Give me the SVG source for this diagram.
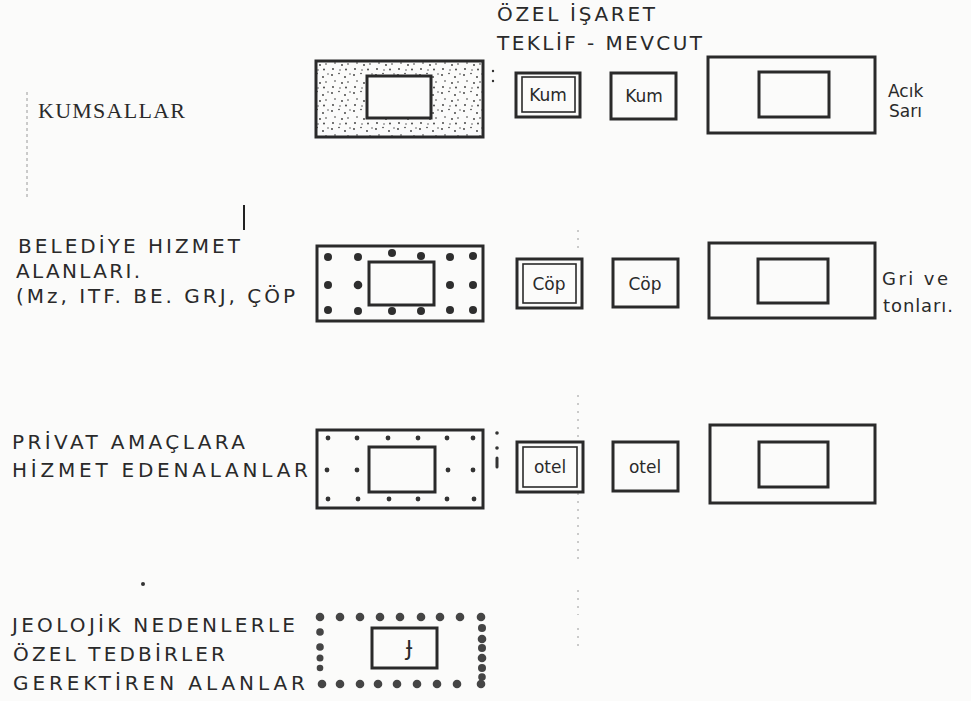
<svg xmlns="http://www.w3.org/2000/svg" width="971" height="701" viewBox="0 0 971 701">
<style>
.bg{fill:#fbfbfa}
.t{font-family:"DejaVu Sans","Liberation Sans",sans-serif;fill:#2a2a2a}
.ts{font-family:"Liberation Serif","DejaVu Serif",serif;fill:#2a2a2a}
.h{font-family:"DejaVu Sans","Liberation Sans",sans-serif;fill:#2a2a2a;font-size:17px;text-anchor:middle}
.box{fill:none;stroke:#2a2a2a;stroke-width:3}
.inbox{fill:#fbfbfa;stroke:#2a2a2a;stroke-width:3}
.thin{fill:none;stroke:#2a2a2a;stroke-width:1.6}
.big{fill:#2e2e2e}
.sm{fill:#333}
.jd{fill:#454545}
.faint{stroke:#9a9a9a;stroke-width:1;fill:none}
</style>
<defs>
<pattern id="stip" patternUnits="userSpaceOnUse" width="22" height="18">
<circle cx="2" cy="3" r="0.9" fill="#333"/>
<circle cx="9" cy="1.5" r="0.8" fill="#333"/>
<circle cx="15" cy="5" r="0.9" fill="#333"/>
<circle cx="20" cy="2" r="0.7" fill="#333"/>
<circle cx="5" cy="9" r="0.8" fill="#333"/>
<circle cx="12" cy="11" r="0.9" fill="#333"/>
<circle cx="18" cy="10" r="0.8" fill="#333"/>
<circle cx="3" cy="15" r="0.9" fill="#333"/>
<circle cx="10" cy="16" r="0.7" fill="#333"/>
<circle cx="16" cy="15.5" r="0.9" fill="#333"/>
</pattern>
</defs>
<rect class="bg" x="0" y="0" width="971" height="701"/>

<g id="header">
<text class="t" x="497" y="21" font-size="20" textLength="158" lengthAdjust="spacing">ÖZEL İŞARET</text>
<text class="t" x="497" y="50" font-size="20" textLength="205" lengthAdjust="spacing">TEKLİF - MEVCUT</text>
</g>

<g id="marks">
<path class="faint" d="M27 92V198" stroke-dasharray="3 3"/>
<path d="M244 205V230" stroke="#222" stroke-width="2"/>
<path class="faint" d="M578 230V250M578 395V440M578 493V560M578 590V615M578 628V650" stroke-dasharray="2 6"/>
<circle class="sm" cx="493" cy="71" r="1.2"/>
<circle class="sm" cx="493" cy="81" r="1.2"/>
<circle class="sm" cx="143" cy="584" r="2"/>
</g>

<g id="row-kumsallar">
<text class="ts" x="38" y="118" font-size="22" textLength="147" lengthAdjust="spacing">KUMSALLAR</text>
<rect x="316" y="61" width="167" height="76" fill="url(#stip)" stroke="#2a2a2a" stroke-width="3"/>
<rect class="inbox" x="367" y="76" width="64" height="42"/>
<rect class="box" x="516" y="73" width="64" height="44"/>
<rect class="thin" x="522" y="77" width="53" height="35"/>
<text class="h" x="548" y="101">Kum</text>
<rect class="box" x="611" y="73" width="65" height="46"/>
<text class="h" x="644" y="102">Kum</text>
<rect class="box" x="708" y="57" width="167" height="76"/>
<rect class="box" x="759" y="72" width="70" height="45"/>
<text class="t" x="888" y="97" font-size="17">Acık</text>
<text class="t" x="889" y="117" font-size="17">Sarı</text>
</g>

<g id="row-belediye">
<text class="t" x="18" y="253" font-size="20" textLength="222" lengthAdjust="spacing">BELEDİYE HIZMET</text>
<text class="t" x="16" y="278" font-size="20" textLength="124" lengthAdjust="spacing">ALANLARI.</text>
<text class="t" x="16" y="303" font-size="20" textLength="279" lengthAdjust="spacing">(Mz, ITF. BE. GRJ, ÇÖP</text>
<rect class="box" x="317" y="246" width="166" height="75"/>
<rect class="box" x="369" y="262" width="65" height="43"/>
<g class="big">
<circle cx="328" cy="257" r="4"/><circle cx="358" cy="257" r="4"/><circle cx="392" cy="253" r="4"/><circle cx="421" cy="256" r="4"/><circle cx="450" cy="257" r="4"/><circle cx="473" cy="256" r="4"/>
<circle cx="328" cy="285" r="4"/><circle cx="358" cy="285" r="4.3"/><circle cx="450" cy="285" r="4"/><circle cx="473" cy="285" r="4"/>
<circle cx="328" cy="310" r="4"/><circle cx="358" cy="311" r="4"/><circle cx="392" cy="311" r="4"/><circle cx="421" cy="311" r="4"/><circle cx="450" cy="310" r="4"/><circle cx="473" cy="310" r="4"/>
</g>
<rect class="box" x="517" y="259" width="65" height="49"/>
<rect class="thin" x="523" y="264" width="53" height="39"/>
<text class="h" x="549" y="290">Cöp</text>
<rect class="box" x="613" y="259" width="65" height="48"/>
<text class="h" x="645" y="290">Cöp</text>
<rect class="box" x="709" y="243" width="166" height="75"/>
<rect class="box" x="758" y="259" width="70" height="44"/>
<text class="t" x="882" y="285" font-size="18" textLength="66" lengthAdjust="spacing">Gri ve</text>
<text class="t" x="883" y="312" font-size="18" textLength="70" lengthAdjust="spacing">tonları.</text>
</g>

<g id="row-privat">
<text class="t" x="12" y="449" font-size="20" textLength="233" lengthAdjust="spacing">PRİVAT AMAÇLARA</text>
<text class="t" x="12" y="477" font-size="20" textLength="296" lengthAdjust="spacing">HİZMET EDENALANLAR</text>
<rect class="box" x="317" y="430" width="166" height="78"/>
<rect class="box" x="369" y="447" width="66" height="45"/>
<g class="sm">
<circle cx="328" cy="438" r="2.4"/><circle cx="357" cy="438" r="2.4"/><circle cx="388" cy="438" r="2.4"/><circle cx="418" cy="438" r="2.4"/><circle cx="447" cy="438" r="2.4"/><circle cx="473" cy="438" r="2.4"/>
<circle cx="327" cy="470" r="2.4"/><circle cx="357" cy="470" r="2.4"/><circle cx="448" cy="470" r="2.4"/><circle cx="473" cy="470" r="2.4"/>
<circle cx="328" cy="499" r="2.4"/><circle cx="358" cy="499" r="2.4"/><circle cx="389" cy="499" r="2.4"/><circle cx="418" cy="499" r="2.4"/><circle cx="447" cy="499" r="2.4"/><circle cx="474" cy="499" r="2.4"/>
<circle cx="497" cy="433" r="1.8"/><circle cx="497" cy="448" r="1.8"/>
</g>
<path d="M497 458V467" stroke="#333" stroke-width="3" stroke-linecap="round"/>
<rect class="box" x="517" y="442" width="66" height="50"/>
<rect class="thin" x="523" y="447" width="54" height="40"/>
<text class="h" x="550" y="473">otel</text>
<rect class="box" x="613" y="442" width="65" height="49"/>
<text class="h" x="645" y="473">otel</text>
<rect class="box" x="710" y="425" width="165" height="78"/>
<rect class="box" x="759" y="442" width="69" height="45"/>
</g>

<g id="row-jeolojik">
<text class="t" x="12" y="632" font-size="20" textLength="283" lengthAdjust="spacing">JEOLOJİK NEDENLERLE</text>
<text class="t" x="13" y="661" font-size="20" textLength="212" lengthAdjust="spacing">ÖZEL TEDBİRLER</text>
<text class="t" x="13" y="690" font-size="20" textLength="292" lengthAdjust="spacing">GEREKTİREN ALANLAR</text>
<g class="jd">
<circle cx="320" cy="617" r="4.3"/><circle cx="340" cy="617" r="4.3"/><circle cx="360" cy="617" r="4.3"/><circle cx="380" cy="617" r="4.3"/><circle cx="400" cy="617" r="4.3"/><circle cx="421" cy="617" r="4.3"/><circle cx="440" cy="617" r="4.3"/><circle cx="460" cy="617" r="4.3"/><circle cx="481" cy="617" r="4.3"/>
<circle cx="320" cy="632" r="3.8"/><circle cx="320" cy="647" r="3.8"/><circle cx="320" cy="658" r="3.5"/><circle cx="320" cy="668" r="3.3"/>
<circle cx="482" cy="628" r="4"/><circle cx="482" cy="639" r="4.3"/><circle cx="482" cy="648" r="4"/><circle cx="482" cy="658" r="4.3"/><circle cx="482" cy="668" r="4"/><circle cx="482" cy="677" r="3.8"/>
<circle cx="322" cy="684" r="4.3"/><circle cx="340" cy="684" r="4.3"/><circle cx="360" cy="684" r="4.3"/><circle cx="378" cy="684" r="4.3"/><circle cx="397" cy="684" r="4.3"/><circle cx="417" cy="684" r="4.3"/><circle cx="437" cy="684" r="4.3"/><circle cx="457" cy="684" r="4.3"/><circle cx="481" cy="684" r="4.3"/>
</g>
<rect class="box" x="372" y="628" width="65" height="40"/>
<text class="t" x="409" y="656" font-size="21" text-anchor="middle">Ɉ</text>
</g>

<g id="connectors"/>
</svg>
